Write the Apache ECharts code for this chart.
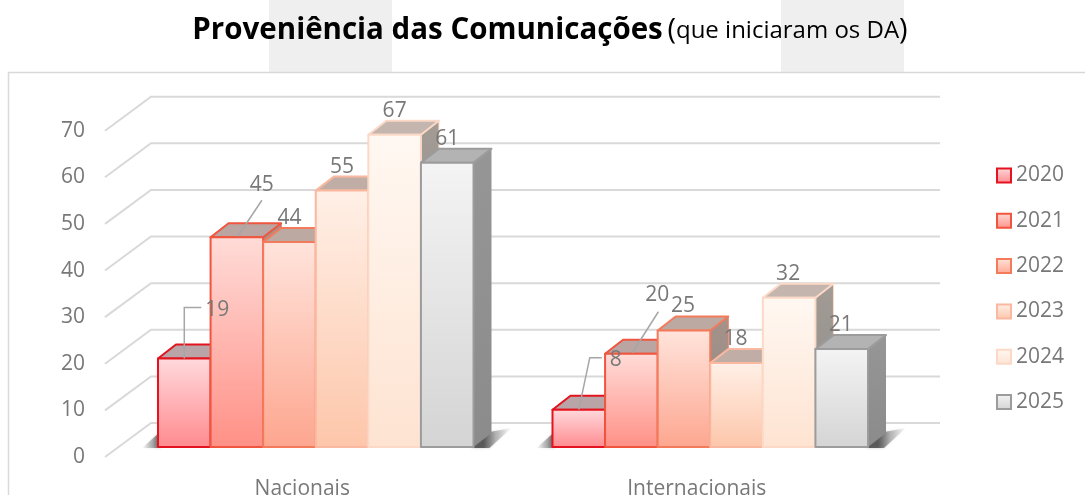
<!DOCTYPE html>
<html>
<head>
<meta charset="utf-8">
<style>
  html, body { margin: 0; padding: 0; background: #fff; }
  #chart { width: 1085px; height: 495px; }
</style>
<script src="https://cdn.jsdelivr.net/npm/echarts@6/dist/echarts.min.js"></script>
</head>
<body>
<div id="chart"></div>
<script>
const categories = ['Nacionais', 'Internacionais']
const years = ['2020', '2021', '2022', '2023', '2024', '2025']
const values2020 = [19, 8]
const values2021 = [45, 20]
const values2022 = [44, 25]
const values2023 = [55, 18]
const values2024 = [67, 32]
const values2025 = [61, 21]
const yTicks = [0, 10, 20, 30, 40, 50, 60, 70]

const seriesValues = [values2020, values2021, values2022, values2023, values2024, values2025]

// cores de cada ano: frente (topo, base), borda, tampa, lado
const palette = [
  { hi: '#ffdadd', lo: '#ff8a8e', line: '#e3141f', top: '#b9a5a7', side: '#a39192' },
  { hi: '#ffdcd8', lo: '#ff9086', line: '#f0553f', top: '#baa5a2', side: '#a4918e' },
  { hi: '#ffe4dc', lo: '#fda68f', line: '#f37b5c', top: '#bcaaa2', side: '#a69288' },
  { hi: '#fff0e7', lo: '#fdc6aa', line: '#f9b89f', top: '#c0aea6', side: '#a89a92' },
  { hi: '#fff8f2', lo: '#fee3d1', line: '#fcd9c7', top: '#c4b6ae', side: '#a39b94' },
  { hi: '#f4f4f4', lo: '#d4d4d4', line: '#9c9c9c', top: '#b3b3b3', side: '#969696' }
]
const textColor = '#787878'

// profundidade do chao e plano das barras em relacao a frente da grelha
const wallDepth = [46, -34]
const barPlane = [13.5, -10]
const barDepth = [18, -14]
const barRatio = 0.1333

// rotulos deslocados, com a linha de chamada
const labelShift = { '0-0': [33, -48], '0-1': [37, -50], '1-0': [25, -52], '1-1': [26, -59] }
const leaderLines = {
  '0-0': [[0, 0], [0, -51], [17, -51]],
  '0-1': [[0, 0], [11, -52], [23, -52]],
  '1-0': [[1, -1], [25, -37]],
  '1-1': [[1, -1], [27, -42]]
}

const gridSeries = {
  type: 'custom',
  silent: true,
  z: 1,
  data: yTicks.map(t => [0, t]),
  encode: { x: 0, y: 1 },
  renderItem: (params, api) => {
    const cs = params.coordSys
    const y = api.coord([0, api.value(1)])[1]
    return {
      type: 'polyline',
      shape: { points: [
        [cs.x, y],
        [cs.x + wallDepth[0], y + wallDepth[1]],
        [cs.x + cs.width + wallDepth[0], y + wallDepth[1]]
      ] },
      style: { stroke: '#d9d9d9', lineWidth: 2, fill: 'none' }
    }
  }
}

const shadowSeries = {
  type: 'custom',
  silent: true,
  z: 2,
  data: categories.map((c, i) => [i, 0]),
  encode: { x: 0, y: 1 },
  renderItem: (params, api) => {
    const base = api.coord([api.value(0), 0])
    const band = api.size([1, 0])[0]
    const barW = band * barRatio
    const x0 = base[0] + barPlane[0] - 3 * barW
    const x1 = x0 + 6 * barW
    const y = base[1] + barPlane[1]
    return {
      type: 'group',
      children: [
        {
          type: 'polygon',
          shape: { points: [[x0 - 16, y + 1], [x0 + 2, y - 15], [x0 + 2, y + 1]] },
          style: {
            shadowBlur: 3,
            shadowColor: 'rgba(70,70,70,0.35)',
            fill: { type: 'linear', x: 0, y: 0, x2: 1, y2: 0, colorStops: [
              { offset: 0, color: 'rgba(70,70,70,0)' },
              { offset: 0.6, color: 'rgba(70,70,70,0.4)' },
              { offset: 1, color: 'rgba(60,60,60,0.8)' }
            ] }
          }
        },
        {
          type: 'polygon',
          shape: { points: [[x1 - 2, y + 1], [x1 + 16, y - 15], [x1 + 38, y - 19], [x1 + 16, y + 1]] },
          style: {
            shadowBlur: 3,
            shadowColor: 'rgba(70,70,70,0.35)',
            fill: { type: 'linear', x: 0, y: 0, x2: 1, y2: 0, colorStops: [
              { offset: 0.3, color: 'rgba(60,60,60,0.8)' },
              { offset: 0.6, color: 'rgba(70,70,70,0.35)' },
              { offset: 1, color: 'rgba(70,70,70,0)' }
            ] }
          }
        }
      ]
    }
  }
}

const barSeries = years.map((year, si) => {
  const c = palette[si]
  const front = { type: 'linear', x: 0, y: 0, x2: 0, y2: 1, colorStops: [
    { offset: 0, color: c.hi }, { offset: 1, color: c.lo }
  ] }
  return {
    name: year,
    type: 'custom',
    z: 3,
    silent: true,
    itemStyle: { color: front, borderColor: c.line, borderWidth: 2 },
    data: seriesValues[si].map((v, i) => [i, v]),
    encode: { x: 0, y: 1 },
    renderItem: (params, api) => {
      const cat = api.value(0)
      const val = api.value(1)
      const band = api.size([1, 0])[0]
      const barW = band * barRatio
      const base = api.coord([cat, 0])
      const top = api.coord([cat, val])
      const x0 = base[0] + barPlane[0] + (si - 3) * barW
      const x1 = x0 + barW
      const yb = base[1] + barPlane[1]
      const yt = top[1] + barPlane[1]
      const [dx, dy] = barDepth
      const edge = { stroke: c.line, lineWidth: 2, lineJoin: 'round' }
      const cx = (x0 + x1) / 2
      const key = si + '-' + cat
      const shift = labelShift[key] || [cat ? -1 : 0, -24]
      const children = [
        { type: 'polygon', shape: { points: [[x1, yt], [x1 + dx, yt + dy], [x1 + dx, yb + dy], [x1, yb]] },
          style: { fill: { type: 'linear', x: 0, y: 0, x2: 0, y2: 1, colorStops: [
            { offset: 0, color: c.side }, { offset: 1, color: '#8b8b8b' }
          ] }, stroke: c.line, lineWidth: si === 5 ? 0 : 1 } },
        { type: 'polygon', shape: { points: [[x0, yt], [x0 + dx, yt + dy], [x1 + dx, yt + dy], [x1, yt]] },
          style: Object.assign({ fill: c.top }, edge) },
        { type: 'rect', shape: { x: x0, y: yt, width: barW, height: yb - yt },
          style: Object.assign({ fill: front }, edge) }
      ]
      if (leaderLines[key]) {
        children.push({ type: 'polyline', z2: 50,
          shape: { points: leaderLines[key].map(p => [cx + p[0], yt + p[1]]) },
          style: { stroke: '#a6a6a6', lineWidth: 1.5, fill: 'none' } })
      }
      children.push({ type: 'text', z2: 60, x: cx + shift[0], y: yt + shift[1],
        style: { text: String(val), fill: textColor, fontFamily: 'Open Sans', fontSize: 21, align: 'center', verticalAlign: 'middle' } })
      return { type: 'group', children }
    }
  }
})

const option = {
  animation: false,
  backgroundColor: '#fff',
  textStyle: { fontFamily: 'Open Sans' },
  graphic: [
    { type: 'rect', z: 0, shape: { x: 269, y: 0, width: 123, height: 72 }, style: { fill: '#efefef' } },
    { type: 'rect', z: 0, shape: { x: 781, y: 0, width: 123, height: 72 }, style: { fill: '#efefef' } },
    { type: 'rect', z: 0, shape: { x: 8.5, y: 72.5, width: 1100, height: 440 }, style: { fill: '#fff', stroke: '#d9d9d9', lineWidth: 1.5 } }
  ],
  title: {
    left: 545,
    top: 11,
    textAlign: 'center',
    text: '{b|Proveniência das Comunicações} {p|(}{n|que iniciaram os DA}{p|)}',
    textStyle: {
      rich: {
        b: { fontFamily: 'Open Sans', fontWeight: 'bold', fontSize: 29.5, color: '#000' },
        n: { fontFamily: 'Open Sans', fontWeight: 'normal', fontSize: 24, color: '#000' },
        p: { fontFamily: 'Open Sans', fontWeight: 'normal', fontSize: 29, color: '#000' }
      }
    }
  },
  legend: {
    orient: 'vertical',
    left: 991,
    top: 160,
    data: years,
    itemWidth: 14,
    itemHeight: 14,
    itemGap: 24.3,
    icon: 'rect',
    textStyle: { color: textColor, fontFamily: 'Open Sans', fontSize: 21 }
  },
  grid: { left: 105, top: 130.7, width: 789, height: 326.3, containLabel: false, outerBoundsMode: 'none' },
  xAxis: {
    type: 'category',
    data: categories,
    axisLine: { show: false },
    axisTick: { show: false },
    axisLabel: { color: textColor, fontSize: 21, fontFamily: 'Open Sans', margin: 22 }
  },
  yAxis: {
    type: 'value',
    min: 0,
    max: 70,
    interval: 10,
    axisLine: { show: false },
    axisTick: { show: false },
    splitLine: { show: false },
    axisLabel: { color: textColor, fontSize: 21, fontFamily: 'Open Sans', margin: 20, padding: [2, 0, 0, 0] }
  },
  series: [gridSeries, shadowSeries, ...barSeries]
}

const myChart = echarts.init(document.getElementById('chart'), null, { renderer: 'canvas' })
myChart.setOption(option)
</script>
</body>
</html>
